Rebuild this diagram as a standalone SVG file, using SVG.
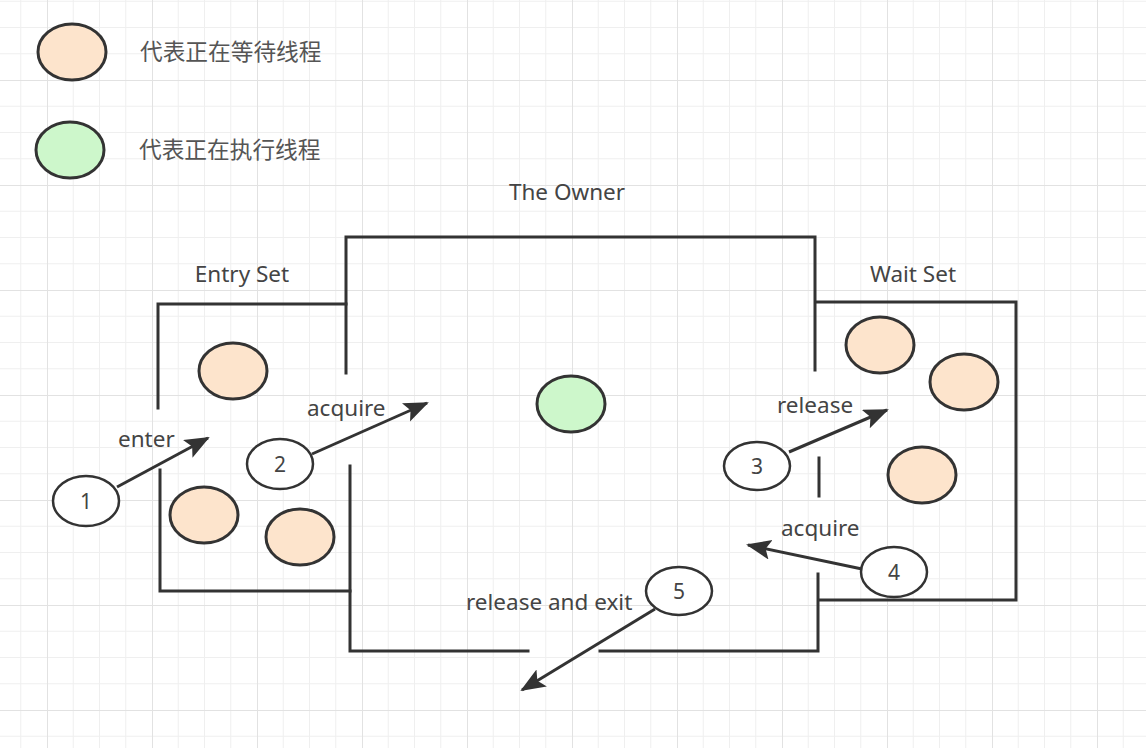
<svg xmlns="http://www.w3.org/2000/svg" width="1146" height="748" viewBox="0 0 1146 748">
<style>
.wall{fill:none;stroke:#333;stroke-width:3;stroke-linecap:square}
.wait{fill:#fde4cc;stroke:#333;stroke-width:3}
.run{fill:#cdf7cb;stroke:#333;stroke-width:3}
.step{fill:#fff;stroke:#333;stroke-width:2.5}
.t{font-family:"Noto Sans","Open Sans","Liberation Sans",sans-serif;font-size:22.5px;fill:#444}
.cn{font-family:"Noto Sans CJK SC","Noto Sans",sans-serif;font-size:22.7px;fill:#555}
.num{font-family:"Noto Sans","Liberation Sans",sans-serif;font-size:21px;fill:#444;text-anchor:middle;dominant-baseline:central}
.arr{fill:none;stroke:#333;stroke-width:3;marker-end:url(#ah)}
</style>
<defs>
<pattern id="grid" x="-58" y="-25" width="105" height="105" patternUnits="userSpaceOnUse">
<path d="M26.25 0V105M52.5 0V105M78.75 0V105M0 26.25H105M0 52.5H105M0 78.75H105" stroke="#efefef" stroke-width="1" fill="none"/>
<path d="M0.5 0V105M0 0.5H105" stroke="#e2e2e2" stroke-width="1" fill="none"/>
</pattern>
<marker id="ah" markerUnits="userSpaceOnUse" markerWidth="28" markerHeight="22" refX="23" refY="10" orient="auto">
<path d="M0 0L25 10L0 20L5 10Z" fill="#333"/>
</marker>
</defs>
<rect width="1146" height="748" fill="#fff"/>
<rect width="1146" height="748" fill="url(#grid)"/>

<g id="legend">
<g id="legend-waiting"><ellipse class="wait" cx="72" cy="52" rx="34" ry="28"/><text class="cn" x="140" y="60">代表正在等待线程</text></g>
<g id="legend-running"><ellipse class="run" cx="70" cy="150" rx="34" ry="28"/><text class="cn" x="139" y="158">代表正在执行线程</text></g>
</g>

<g id="owner">
<text class="t" x="567" y="200" text-anchor="middle">The Owner</text>
<path class="wall" d="M346 373V237H815V370M819 458V496M818 574V651H600M528 651H350V466"/>
<ellipse id="owner-thread" class="run" cx="571" cy="404" rx="34" ry="28"/>
</g>

<g id="entry-set">
<text class="t" x="242" y="282" text-anchor="middle">Entry Set</text>
<path class="wall" d="M158 408V304H346M160 470V591H350"/>
<ellipse id="entry-t1" class="wait" cx="233" cy="371" rx="34" ry="28"/>
<ellipse id="entry-t2" class="wait" cx="204" cy="515" rx="34" ry="28"/>
<ellipse id="entry-t3" class="wait" cx="300" cy="537" rx="34" ry="28"/>
</g>

<g id="wait-set">
<text class="t" x="913" y="282" text-anchor="middle">Wait Set</text>
<path class="wall" d="M816 302H1016V600H819"/>
<ellipse id="wait-t1" class="wait" cx="880" cy="345" rx="34" ry="28"/>
<ellipse id="wait-t2" class="wait" cx="964" cy="382" rx="34" ry="28"/>
<ellipse id="wait-t3" class="wait" cx="922" cy="475" rx="34" ry="28"/>
</g>

<g id="connectors">
<path class="arr" d="M117 487L208 438"/>
<path class="arr" d="M312 454L427 403"/>
<path class="arr" d="M789 452L887 410"/>
<path class="arr" d="M862 569L748 545"/>
<path class="arr" d="M655 609L522 690"/>
<text class="t" x="118" y="447">enter</text>
<text class="t" x="307" y="416">acquire</text>
<text class="t" x="777" y="413">release</text>
<text class="t" x="781" y="536">acquire</text>
<text class="t" x="466" y="610">release and exit</text>
</g>

<g id="step1"><ellipse class="step" cx="86" cy="501" rx="33" ry="25"/><text class="num" x="86" y="501">1</text></g>
<g id="step2"><ellipse class="step" cx="280" cy="464" rx="33" ry="25"/><text class="num" x="280" y="464">2</text></g>
<g id="step3"><ellipse class="step" cx="757" cy="466" rx="33" ry="24"/><text class="num" x="757" y="466">3</text></g>
<g id="step4"><ellipse class="step" cx="894" cy="572" rx="33" ry="25"/><text class="num" x="894" y="572">4</text></g>
<g id="step5"><ellipse class="step" cx="679" cy="591" rx="33" ry="24"/><text class="num" x="679" y="591">5</text></g>
</svg>
